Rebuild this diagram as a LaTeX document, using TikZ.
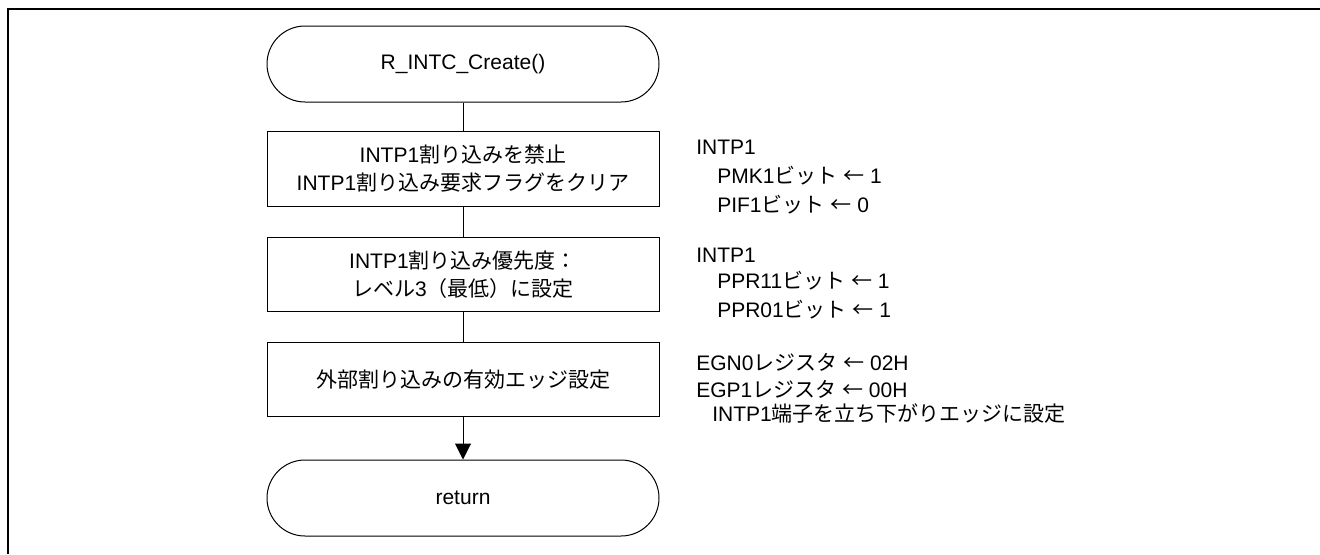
\documentclass[tikz,border=0pt]{standalone}
\usepackage{fontspec}
\setmainfont{Liberation Sans}
\newfontfamily\jp{Noto Sans CJK JP}
\usetikzlibrary{arrows.meta}
\newcommand\fs{\fontsize{15.75pt}{21pt}\selectfont}
\newcommand\larr{{\jp ←}}
\tikzset{
  term/.style={draw, line width=0.75pt, rounded corners=28.5pt, minimum width=294pt, minimum height=57pt, inner sep=0pt, font=\fs},
  proc/.style={draw, line width=0.75pt, minimum width=294pt, minimum height=56pt, inner sep=0pt, align=center, font=\fs},
  note/.style={anchor=base west, inner sep=0pt, font=\fs},
  flow/.style={line width=0.75pt},
  frame/.style={line width=1.5pt},
}
\begin{document}
\begin{tikzpicture}[x=0.75pt, y=-0.75pt]
\useasboundingbox (0,0) rectangle (1320,554);
\draw[frame] (8,554) -- (8,9) -- (1320,9);

\node[term] (t1) at (463,64) {R\_INTC\_Create()};
\node[proc] (b1) at (463,169) {INTP1{\jp 割り込みを禁止}\\INTP1{\jp 割り込み要求フラグをクリア}};
\node[proc] (b2) at (463,274.5) {INTP1{\jp 割り込み優先度：}\\{\jp レベル}3{\jp （最低）に設定}};
\node[proc] (b3) at (463,379.5) {{\jp 外部割り込みの有効エッジ設定}};
\node[term] (t2) at (463,498) {return};

\draw[flow] (t1) -- (b1);
\draw[flow] (b1) -- (b2);
\draw[flow] (b2) -- (b3);
\draw[flow, -{Triangle[length=12pt, width=12pt]}] (b3) -- (t2);

\node[note] (n1) at (696,154) {INTP1};
\node[note] (n2) at (717,183) {PMK1{\jp ビット} \larr{} 1};
\node[note] (n3) at (717,212) {PIF1{\jp ビット} \larr{} 0};
\node[note] (n4) at (696,262) {INTP1};
\node[note] (n5) at (717,288) {PPR11{\jp ビット} \larr{} 1};
\node[note] (n6) at (717,317) {PPR01{\jp ビット} \larr{} 1};
\node[note] (n7) at (696,370) {EGN0{\jp レジスタ} \larr{} 02H};
\node[note] (n8) at (696,397) {EGP1{\jp レジスタ} \larr{} 00H};
\node[note] (n9) at (712,421) {INTP1{\jp 端子を立ち下がりエッジに設定}};
\end{tikzpicture}
\end{document}
